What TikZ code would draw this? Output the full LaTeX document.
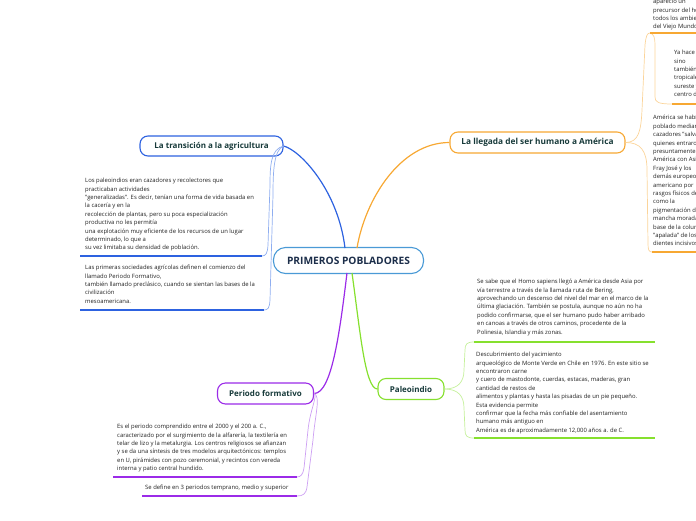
\documentclass[tikz,border=0pt]{standalone}
\usepackage{fontspec}
\setmainfont{Open Sans}
\definecolor{txt}{HTML}{222222}
\definecolor{ttl}{HTML}{173A3A}
\definecolor{roottxt}{HTML}{1C2E4A}
\definecolor{cblue}{HTML}{2D62E0}
\definecolor{lblue}{HTML}{8FAEF0}
\definecolor{cent}{HTML}{4A9AD6}
\definecolor{corange}{HTML}{F7A833}
\definecolor{lorange}{HTML}{FBD49A}
\definecolor{cgreen}{HTML}{86E02E}
\definecolor{lgreen}{HTML}{C4F09A}
\definecolor{cpurple}{HTML}{9B2BE8}
\definecolor{lpurple}{HTML}{CDA0F3}
\tikzset{
  body/.style={font=\fontsize{5.9}{8.4}\selectfont, align=left, anchor=north west, inner sep=0pt, text=txt},
  topic/.style={draw, rounded corners=8pt, line width=1.1pt, fill=white, font=\fontsize{8}{9}\selectfont\bfseries, text=ttl, inner sep=0pt},
  mainline/.style={line width=1.2pt},
  subline/.style={line width=0.7pt},
  underline/.style={line width=1.7pt},
}
\begin{document}
\begin{tikzpicture}[x=1pt,y=-1pt]
\useasboundingbox (0,0) rectangle (696,520);

% main connectors
\coordinate (cb) at (345,248);
\coordinate (co) at (357,248);
\coordinate (cp) at (347,273);
\coordinate (cg) at (352,273);

\node[topic, draw=cent, rounded corners=12pt, minimum width=150pt, minimum height=26pt, font=\fontsize{10.2}{12}\selectfont\bfseries, text=roottxt] (root) at (348.5,260.5) {PRIMEROS POBLADORES};

\node[topic, draw=cblue, minimum width=143pt, minimum height=20pt] (trans) at (211.5,146) {La transición a la agricultura};
\node[topic, draw=corange, minimum width=175pt, minimum height=21pt, font=\fontsize{8.3}{9}\selectfont\bfseries] (lleg) at (537.5,142.5) {La llegada del ser humano a América};
\node[topic, draw=cgreen, minimum width=66pt, minimum height=21pt] (paleo) at (411,389) {Paleoindio};
\node[topic, draw=cpurple, minimum width=96pt, minimum height=21pt] (form) at (265.5,393.5) {Periodo formativo};

\draw[mainline, cblue] (trans.east) .. controls (300,150) and (338,190) .. (cb);
\draw[mainline, corange] (co) .. controls (365,200) and (400,142.5) .. (lleg.west);
\draw[mainline, cpurple] (cp) .. controls (340,330) and (332,393.5) .. (form.east);
\draw[mainline, cgreen] (cg) .. controls (360,330) and (365,389) .. (paleo.west);

% blue children
\coordinate (b1) at (262,256);
\coordinate (b1l) at (80,256);
\coordinate (b2) at (264,310);
\coordinate (b2l) at (80,310);
\draw[subline, lblue] (trans.east) .. controls (271,149) and (270,165) .. (270,185) -- (268,245) .. controls (267.5,253) and (266,256) .. (b1);
\draw[subline, lblue] (trans.east) .. controls (274,150) and (273,170) .. (273,195) -- (270,300) .. controls (269.5,308) and (268,310) .. (b2);
\draw[underline, cblue] (b1l) -- (b1);
\draw[underline, cblue] (b2l) -- (b2);
\node[body] (t1) at (85,176.6) {\strut Los paleoindios eran cazadores y recolectores que\\
practicaban actividades\\
"generalizadas". Es decir, tenían una forma de vida basada en\\
la cacería y en la\\
recolección de plantas, pero su poca especialización\\
productiva no les permitía\\
una explotación muy eficiente de los recursos de un lugar\\
determinado, lo que a\\
su vez limitaba su densidad de población.};
\node[body] (t2) at (85,263.6) {\strut Las primeras sociedades agrícolas definen el comienzo del\\
llamado Periodo Formativo,\\
también llamado preclásico, cuando se sientan las bases de la\\
civilización\\
mesoamericana.};

% orange children
\coordinate (o1) at (650,33);
\coordinate (o1r) at (700,33);
\coordinate (o2) at (672,104);
\coordinate (o2r) at (700,104);
\coordinate (o3) at (652,252);
\coordinate (o3r) at (700,252);
\draw[subline, lorange] (lleg.east) .. controls (639,142.5) and (641,130) .. (642,110) -- (645,45) .. controls (646,36) and (647,33) .. (o1);
\draw[subline, lorange] (lleg.east) .. controls (640,142.5) and (647,150) .. (647,170) -- (648,244) .. controls (648,250) and (649,252) .. (o3);
\draw[subline, lorange] (o1) .. controls (654,34) and (655,38) .. (655,45) -- (655,97) .. controls (655,102) and (658,104) .. (o2);
\draw[underline, corange] (o1) -- (o1r);
\draw[underline, corange] (o2) -- (o2r);
\draw[underline, corange] (o3) -- (o3r);
\node[body] (t3) at (653,-2.4) {\strut apareció un\\
precursor del hombre\\
todos los ambientes\\
del Viejo Mundo.};
\node[body] (t4) at (674,48.6) {\strut Ya hace 10,000 años\\
sino\\
también en las\\
tropicales del\\
sureste y el\\
centro de México};
\node[body] (t5) at (653,113.8) {\strut América se había\\
poblado mediante\\
cazadores "salvajes"\\
quienes entraron\\
presuntamente por\\
América con Asia\\
Fray José y los\\
demás europeos\\
americano por\\
rasgos físicos de\\
como la\\
pigmentación de\\
mancha morada\\
base de la columna\\
"apalada" de los\\
dientes incisivos.};

% green children
\coordinate (g1) at (474,342);
\coordinate (g1r) at (655,342);
\coordinate (g2) at (474,438);
\coordinate (g2r) at (655,438);
\draw[subline, lgreen] (paleo.east) .. controls (458,389) and (464,382) .. (464,370) -- (465,350) .. controls (465,344) and (467,342) .. (g1);
\draw[subline, lgreen] (paleo.east) .. controls (458,389) and (464,396) .. (464,408) -- (465,430) .. controls (465,436) and (467,438) .. (g2);
\draw[underline, cgreen] (g1) -- (g1r);
\draw[underline, cgreen] (g2) -- (g2r);
\node[body] (t6) at (477,277.6) {\strut Se sabe que el Homo sapiens llegó a América desde Asia por\\
vía terrestre a través de la llamada ruta de Bering,\\
aprovechando un descenso del nivel del mar en el marco de la\\
última glaciación. También se postula, aunque no aún no ha\\
podido confirmarse, que el ser humano pudo haber arribado\\
en canoas a través de otros caminos, procedente de la\\
Polinesia, Islandia y más zonas.};
\node[body] (t7) at (476,350.6) {\strut Descubrimiento del yacimiento\\
arqueológico de Monte Verde en Chile en 1976. En este sitio se\\
encontraron carne\\
y cuero de mastodonte, cuerdas, estacas, maderas, gran\\
cantidad de restos de\\
alimentos y plantas y hasta las pisadas de un pie pequeño.\\
Esta evidencia permite\\
confirmar que la fecha más confiable del asentamiento\\
humano más antiguo en\\
América es de aproximadamente 12,000 años a. de C.};

% purple children
\coordinate (p1) at (297,477);
\coordinate (p1l) at (113,477);
\coordinate (p2) at (297,496);
\coordinate (p2l) at (142,496);
\draw[subline, lpurple] (form.east) .. controls (318,395) and (310,410) .. (308,430) -- (304,468) .. controls (303,474) and (301,477) .. (p1);
\draw[subline, lpurple] (form.east) .. controls (321,396) and (315,415) .. (313,440) -- (307,487) .. controls (306,494) and (303,496) .. (p2);
\draw[underline, cpurple] (p1l) -- (p1);
\draw[underline, cpurple] (p2l) -- (p2);
\node[body] (t8) at (117,422.6) {\strut Es el periodo comprendido entre el 2000 y el 200 a. C.,\\
caracterizado por el surgimiento de la alfarería, la textilería en\\
telar de lizo y la metalurgia. Los centros religiosos se afianzan\\
y se da una síntesis de tres modelos arquitectónicos: templos\\
en U, pirámides con pozo ceremonial, y recintos con vereda\\
interna y patio central hundido.};
\node[body] (t9) at (145,483.6) {\strut Se define en 3 periodos temprano, medio y superior};
\end{tikzpicture}
\end{document}
